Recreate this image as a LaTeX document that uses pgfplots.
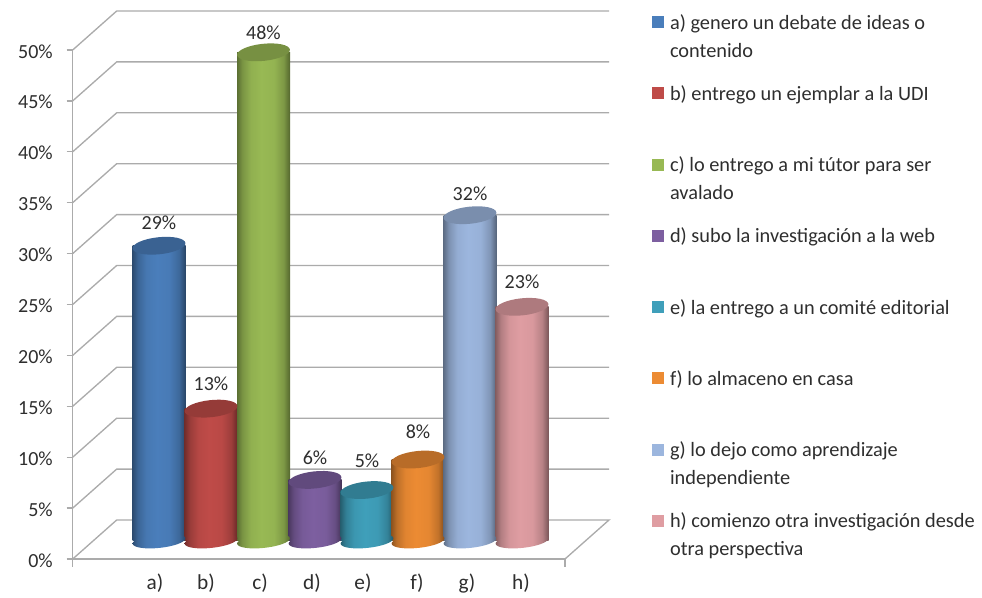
\documentclass[border=0pt]{standalone}
\usepackage{fontspec}
\setmainfont{Carlito}
\usepackage{pgfplots}
\pgfplotsset{compat=1.18}
\definecolor{gridc}{HTML}{ABABAB}
\definecolor{txt}{HTML}{2E2E2E}
\newcommand\defcyl[2]{%
  \definecolor{c#1}{HTML}{#2}%
  \pgfdeclarehorizontalshading{sh#1}{100bp}{%
    color(0bp)=(c#1!60!black); color(25bp)=(c#1!60!black);
    color(30bp)=(c#1!80!black); color(38bp)=(c#1!95!black); color(48bp)=(c#1);
    color(60bp)=(c#1!97!black); color(69bp)=(c#1!82!black);
    color(75bp)=(c#1!55!black); color(100bp)=(c#1!55!black)}%
  \pgfdeclareplotmark{bot#1}{\pgfsetstrokeopacity{0}\path[draw=none,shade,shading=sh#1,shading angle=0] (0pt,0pt) ellipse [x radius=19.9pt,y radius=5.2pt,rotate=6];}%
}
\defcyl{A}{4A7EBB}
\defcyl{B}{BF4B48}
\defcyl{C}{98B954}
\defcyl{D}{7D5FA0}
\defcyl{E}{3F9FBA}
\defcyl{F}{EC8B33}
\defcyl{G}{9CB6DE}
\defcyl{H}{DF9DA2}
\pgfdeclareplotmark{capell}{\pgftransformrotate{6}\pgfpathellipse{\pgfpointorigin}{\pgfqpoint{19.9pt}{0pt}}{\pgfqpoint{0pt}{6.4pt}}\pgfusepathqfill}
\pgfplotsset{
  gridl/.style={gridc,line width=1pt,forget plot,mark=none},
  base/.style={only marks,mark=bot#1,forget plot,draw=none},
  cyl/.style n args={2}{ybar,bar width=39.75pt,bar shift=0pt,draw=none,shade,shading=sh#1,shading angle=0,
    mark=capell,mark options={fill=c#1!78!black,draw=none},
    nodes near coords={\pgfmathprintnumber{\pgfplotspointmeta}\%},
    nodes near coords style={font=\fontsize{15}{16}\selectfont,text=txt,anchor=center,yshift=#2*0.75pt},
    legend image code/.code={\pgfpathrectangle{\pgfqpoint{0pt}{5.6pt}}{\pgfqpoint{9pt}{9pt}}\pgfsetfillcolor{c#1}\pgfusepathqfill}},
}
\begin{document}
\begin{tikzpicture}
\useasboundingbox (0,0) rectangle (736.5pt,448.5pt);
\begin{axis}[
  at={(54.525pt,29.25pt)},anchor=south west,
  x=0.75pt,y=7.635pt,xmin=72.7,xmax=565,ymin=0,ymax=50,clip=false,
  axis lines=left,axis line style={-,gridc,line width=1pt},
  xtick={155,206,260,312,363,417,467,521},
  xticklabels={a),b),c),d),e),f),g),h)},
  ytick={0,5,...,50},
  yticklabel={\pgfmathprintnumber{\tick}\%},
  /pgf/number format/assume math mode=true,
  x tick style={draw=none},
  y tick style={gridc,line width=1pt},
  major tick length=4.5pt,
  tick align=outside,
  x tick label style={font=\fontsize{16}{17}\selectfont,text=txt,inner sep=0pt,anchor=center,yshift=-14pt},
  y tick label style={font=\fontsize{15}{16}\selectfont,text=txt,inner sep=0pt,anchor=east,xshift=-10.25pt,yshift=-1pt},
]
\addplot[gridl] coordinates {(72.7,0)(116.7,3.83)(609,3.83)(565,0)};
\addplot[gridl] coordinates {(72.7,5)(116.7,8.83)(609,8.83)};
\addplot[gridl] coordinates {(72.7,10)(116.7,13.83)(609,13.83)};
\addplot[gridl] coordinates {(72.7,15)(116.7,18.83)(609,18.83)};
\addplot[gridl] coordinates {(72.7,20)(116.7,23.83)(609,23.83)};
\addplot[gridl] coordinates {(72.7,25)(116.7,28.83)(609,28.83)};
\addplot[gridl] coordinates {(72.7,30)(116.7,33.83)(609,33.83)};
\addplot[gridl] coordinates {(72.7,35)(116.7,38.83)(609,38.83)};
\addplot[gridl] coordinates {(72.7,40)(116.7,43.83)(609,43.83)};
\addplot[gridl] coordinates {(72.7,45)(116.7,48.83)(609,48.83)};
\addplot[gridl] coordinates {(72.7,50)(116.7,53.83)(609,53.83)};
\addplot[gridl] coordinates {(72.7,0)(72.7,-0.8)};
\addplot[gridl] coordinates {(565,0)(565,-0.8)};
\end{axis}
\begin{axis}[
  at={(54.525pt,29.25pt)},anchor=south west,
  x=0.75pt,y=7.635pt,xmin=72.7,xmax=565,ymin=-1.77,ymax=48.23,clip=false,
  hide axis,
  /pgf/number format/assume math mode=true,
  legend cell align=left,
  legend style={at={(1.1768,1.0703)},anchor=north west,draw=none,fill=none,inner sep=0pt,outer sep=0pt,
    font=\fontsize{15.25}{21}\selectfont,text=txt,row sep=21.57pt,
    /tikz/every even column/.append style={column sep=0pt},
    nodes={inner sep=0pt,outer sep=0pt}},
  legend columns=1,
]
\addplot[base=A] coordinates {(159,0)};
\addplot[cyl={A}{23}] coordinates {(159,29)};
\addlegendentry{\parbox[c][53.55pt][t]{240pt}{\hspace{4.5pt}a) genero un debate de ideas o\\\hspace*{4.5pt}contenido}}
\addplot[base=B] coordinates {(211,0)};
\addplot[cyl={B}{25}] coordinates {(211,13)};
\addlegendentry{\parbox[c][53.55pt][t]{240pt}{\hspace{4.5pt}b) entrego un ejemplar a la UDI}}
\addplot[base=C] coordinates {(263.5,0)};
\addplot[cyl={C}{20}] coordinates {(263.5,48)};
\addlegendentry{\parbox[c][53.55pt][t]{240pt}{\hspace{4.5pt}c) lo entrego a mi tútor para ser\\\hspace*{4.5pt}avalado}}
\addplot[base=D] coordinates {(315,0)};
\addplot[cyl={D}{22}] coordinates {(315,6)};
\addlegendentry{\parbox[c][53.55pt][t]{240pt}{\hspace{4.5pt}d) subo la investigación a la web}}
\addplot[base=E] coordinates {(367,0)};
\addplot[cyl={E}{29}] coordinates {(367,5)};
\addlegendentry{\parbox[c][53.55pt][t]{240pt}{\hspace{4.5pt}e) la entrego a un comité editorial}}
\addplot[base=F] coordinates {(418,0)};
\addplot[cyl={F}{28}] coordinates {(418,8)};
\addlegendentry{\parbox[c][53.55pt][t]{240pt}{\hspace{4.5pt}f) lo almaceno en casa}}
\addplot[base=G] coordinates {(470,0)};
\addplot[cyl={G}{21}] coordinates {(470,32)};
\addlegendentry{\parbox[c][53.55pt][t]{240pt}{\hspace{4.5pt}g) lo dejo como aprendizaje\\\hspace*{4.5pt}independiente}}
\addplot[base=H] coordinates {(522,0)};
\addplot[cyl={H}{25}] coordinates {(522,23)};
\addlegendentry{\parbox[c][53.55pt][t]{240pt}{\hspace{4.5pt}h) comienzo otra investigación desde\\\hspace*{4.5pt}otra perspectiva}}
\end{axis}
\end{tikzpicture}
\end{document}
